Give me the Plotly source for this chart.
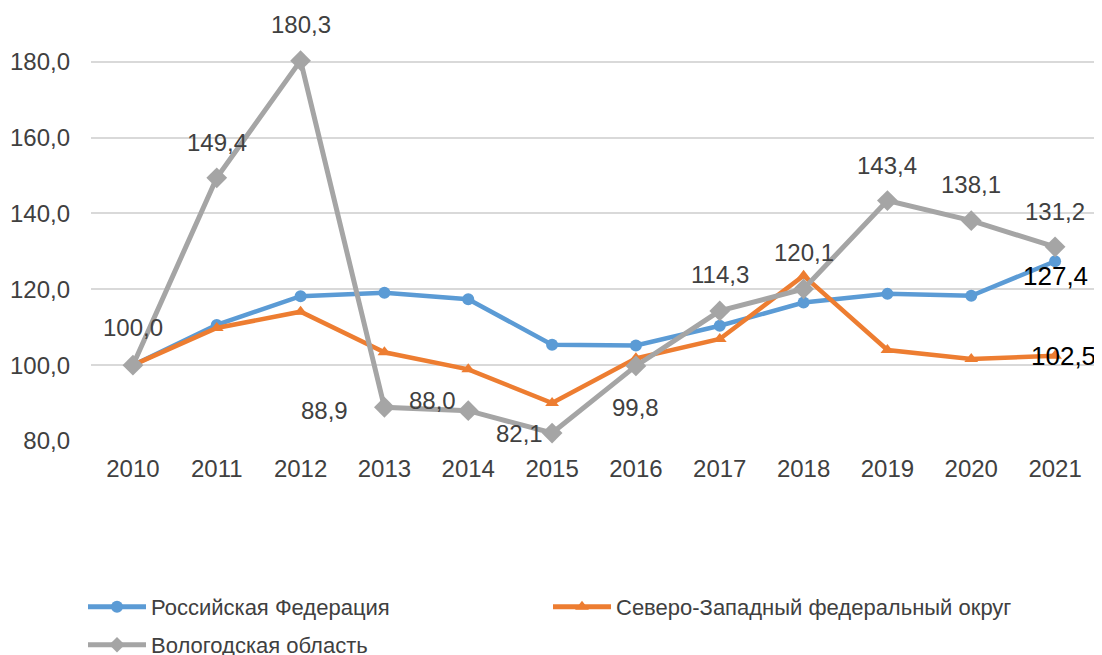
import plotly.graph_objects as go

years = ["2010", "2011", "2012", "2013", "2014", "2015", "2016", "2017", "2018", "2019", "2020", "2021"]
rf = [100.0, 110.6, 118.2, 119.1, 117.4, 105.4, 105.2, 110.4, 116.5, 118.8, 118.3, 127.4]
szfo = [100.0, 109.8, 114.1, 103.4, 98.9, 90.0, 101.8, 106.9, 123.6, 104.0, 101.6, 102.5]
vologda = [100.0, 149.4, 180.3, 88.9, 88.0, 82.1, 99.8, 114.3, 120.1, 143.4, 138.1, 131.2]
names = ["Российская Федерация", "Северо-Западный федеральный округ", "Вологодская область"]
ytick_vals = [80, 100, 120, 140, 160, 180]
ytick_text = ["80,0", "100,0", "120,0", "140,0", "160,0", "180,0"]

# label offsets (pixels) for the Vologda data labels
v_dx = [0, 0, 0, -60, -36, -33, 0, 0, 0, 0, 0, 0]
v_dy = [38, 35, 36, -3, 10, 0, -42, 36, 36, 35, 36, 35]

FONT = "Liberation Sans, Arial"
# the page body has an 8px margin, so the figure is 8px smaller than the window
W, H = 1094, 647

def fmt(v):
    return f"{v:.1f}".replace(".", ",")

fig = go.Figure()
fig.add_trace(go.Scatter(x=years, y=rf, name=names[0], mode="lines+markers",
                         line=dict(color="#5B9BD5", width=4.5),
                         marker=dict(symbol="circle", size=12, color="#5B9BD5"),
                         cliponaxis=False, legend="legend"))
fig.add_trace(go.Scatter(x=years, y=szfo, name=names[1], mode="lines+markers",
                         line=dict(color="#ED7D31", width=4.5),
                         marker=dict(symbol="triangle-up", size=12, color="#ED7D31"),
                         cliponaxis=False, legend="legend"))
fig.add_trace(go.Scatter(x=years, y=vologda, name=names[2], mode="lines+markers",
                         line=dict(color="#A5A5A5", width=5),
                         marker=dict(symbol="diamond", size=16, color="#A5A5A5"),
                         cliponaxis=False, legend="legend2"))

# annotations reference category positions by index
for i, v in enumerate(vologda):
    fig.add_annotation(x=i, y=v, text=fmt(v), showarrow=False,
                       xshift=v_dx[i], yshift=v_dy[i],
                       font=dict(family=FONT, size=24, color="#404040"))

last = len(years) - 1
fig.add_annotation(x=last, y=rf[-1], text=fmt(rf[-1]), showarrow=False,
                   xshift=0, yshift=-15,
                   font=dict(family=FONT, size=26, color="#000000"))
fig.add_annotation(x=last, y=szfo[-1], text=fmt(szfo[-1]), showarrow=False,
                   xshift=8, yshift=0,
                   font=dict(family=FONT, size=26, color="#000000"))

legend_common = dict(orientation="h", xref="container", yref="container",
                     xanchor="left", yanchor="top", itemsizing="constant",
                     font=dict(family=FONT, size=22, color="#404040"),
                     itemwidth=58, entrywidth=392, entrywidthmode="pixels",
                     bgcolor="rgba(0,0,0,0)")

fig.update_layout(
    width=W, height=H,
    margin=dict(l=83, r=5, t=50, b=214, autoexpand=False),
    paper_bgcolor="white", plot_bgcolor="white",
    font=dict(family=FONT, size=24, color="#404040"),
    showlegend=True,
    legend=dict(x=75 / W, y=(H - 578) / H, **legend_common),
    legend2=dict(x=75 / W, y=(H - 616) / H, **legend_common),
    xaxis=dict(type="category", categoryorder="array", categoryarray=years,
               range=[-0.5, len(years) - 0.5], automargin=False,
               showgrid=False, showline=False, zeroline=False,
               ticks="", ticklabelstandoff=11,
               tickfont=dict(size=24, color="#404040")),
    yaxis=dict(range=[80, 181], tickvals=ytick_vals, ticktext=ytick_text,
               automargin=False,
               showgrid=True, gridcolor="#D9D9D9", gridwidth=1.5,
               zeroline=False, showline=False, ticks="", ticklabelstandoff=20,
               tickfont=dict(size=24, color="#404040")),
)

fig.write_html("out.html")
